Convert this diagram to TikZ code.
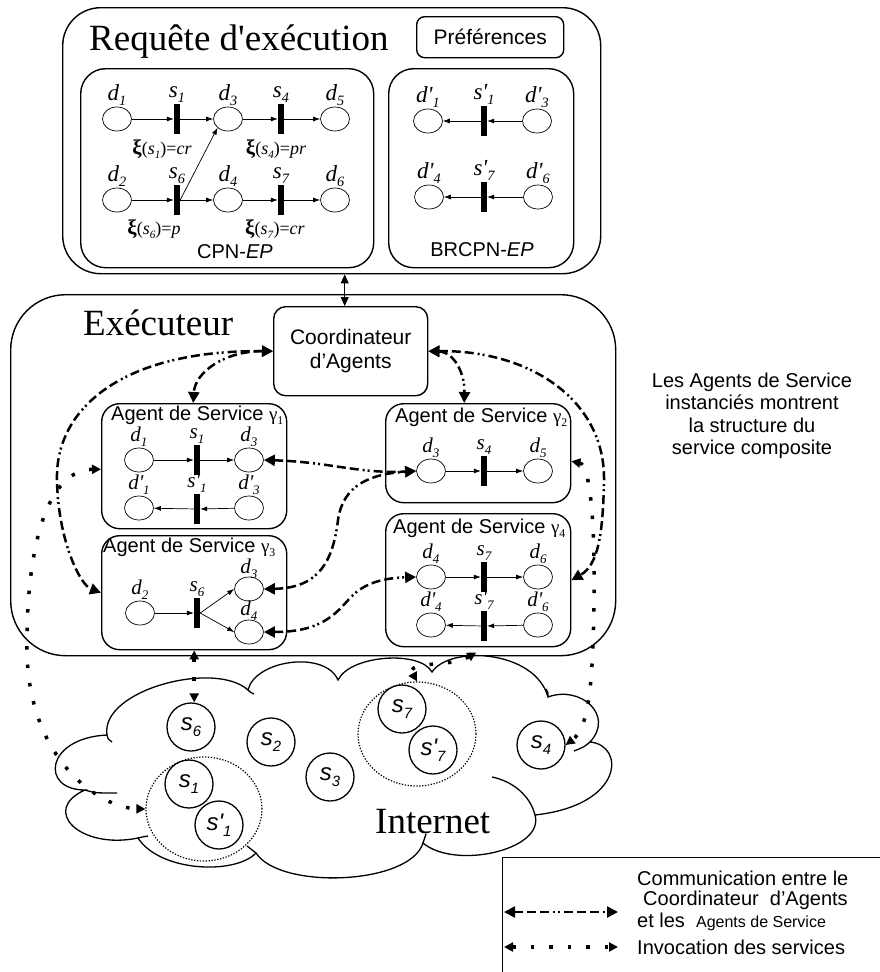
\documentclass[tikz,border=0pt]{standalone}
\usepackage{fontspec}
\setmainfont{Liberation Serif}[Ligatures=TeXOff]
\setsansfont{Liberation Sans}[Ligatures=TeXOff]
\usetikzlibrary{arrows.meta,shapes.geometric,calc}

\newcommand\fsz[2]{\fontsize{#1}{#2}\selectfont}
\newcommand\lo[1]{\raisebox{-0.5ex}{\scalebox{0.62}{#1}}}
\newcommand\gam[1]{{\rmfamily\fsz{19}{19}γ\lo{#1}}}
\newcommand\xil[2]{{\fsz{21}{21}\bfseries ξ}(\textit{s}\lo{\textit{#1}})=\textit{#2}}

\tikzset{
  bigbox/.style={draw, line width=1.4, inner sep=0},
  abox/.style={draw, line width=1.4, rounded corners=18, inner sep=0, anchor=north west},
  place/.style={draw, ellipse, line width=0.7, minimum width=29, minimum height=24, inner sep=0},
  bar/.style={fill=black, minimum width=6, minimum height=30, inner sep=0},
  arc/.style={line width=0.7, -{Latex[length=7pt,width=5pt]}},
  plab/.style={font=\fsz{23}{23}\itshape, inner sep=1, label distance=0},
  alab/.style={font=\fsz{21}{21}\itshape, inner sep=1, label distance=0},
  atitle/.style={anchor=west, inner sep=0, font=\sffamily\fsz{20}{22}},
  svc/.style={draw, circle, line width=1.3, minimum size=48, inner sep=0, font=\sffamily\itshape\fsz{24}{24}},
  grp/.style={draw, ellipse, line width=1.2, dash pattern=on 1.3pt off 1.6pt, inner sep=0},
  xlab/.style={font=\fsz{18}{18}, inner sep=0},
  biarr/.style={line width=1, {Triangle[length=9pt,width=8pt]}-{Triangle[length=9pt,width=8pt]}},
  comm/.style={line width=2.5, dash pattern=on 9pt off 4pt on 9pt off 4pt on 9pt off 4pt on 2pt off 3pt on 2pt off 4pt,
    {Triangle[length=11pt,width=11pt]}-{Triangle[length=11pt,width=11pt]}},
  invoc/.style={line width=3.5, dash pattern=on 3.5pt off 15pt,
    {Triangle[length=9pt,width=9pt]}-{Triangle[length=9pt,width=9pt]}},
  cloudline/.style={line width=1.3},
}

\begin{document}
\begin{tikzpicture}[x=1pt,y=-1pt]
\useasboundingbox (0,0) rectangle (879,972);

% ---------------- execution request ----------------
\node[bigbox, rounded corners=38, minimum width=538, minimum height=266, anchor=north west] (req) at (62,7) {};
\node[anchor=base west, inner sep=0, font=\fsz{37}{40}] (reqt) at (89,50) {Requête d'exécution};
\node[bigbox, rounded corners=8, minimum width=147, minimum height=41, anchor=north west,
      font=\sffamily\fsz{21}{24}] (pref) at (416,16) {Préférences};

% CPN-EP
\node[bigbox, rounded corners=25, minimum width=293, minimum height=199, anchor=north west] (cpn) at (80,68) {};
\node[inner sep=0, font=\sffamily\fsz{20}{22}] (cpnt) at (235,252) {CPN-\textit{EP}};
\node[place, label={[plab]above:d\lo{1}}] (c1) at (117,119) {};
\node[bar,   label={[plab]above:s\lo{1}}] (t1) at (177,119) {};
\node[place, label={[plab]above:d\lo{3}}] (c3) at (228,119) {};
\node[bar,   label={[plab]above:s\lo{4}}] (t4) at (281,119) {};
\node[place, label={[plab]above:d\lo{5}}] (c5) at (335,119) {};
\node[place, label={[plab]above:d\lo{2}}] (c2) at (117,200) {};
\node[bar,   label={[plab]above:s\lo{6}}] (t6) at (177,200) {};
\node[place, label={[plab]above:d\lo{4}}] (c4) at (228,200) {};
\node[bar,   label={[plab]above:s\lo{7}}] (t7) at (281,200) {};
\node[place, label={[plab]above:d\lo{6}}] (c6) at (335,200) {};
\node[xlab] (x1) at (162,149) {\xil{1}{cr}};
\node[xlab] (x4) at (276,149) {\xil{4}{pr}};
\node[xlab] (x6) at (154,229) {\xil{6}{p}};
\node[xlab] (x7) at (275,229) {\xil{7}{cr}};
\draw[arc] (c1) -- (t1);
\draw[arc] (t1) -- (c3);
\draw[arc] (c3) -- (t4);
\draw[arc] (t4) -- (c5);
\draw[arc] (c2) -- (t6);
\draw[arc] (t6) -- (c4);
\draw[arc] (c4) -- (t7);
\draw[arc] (t7) -- (c6);
\draw[arc] (t6.east) -- (c3.south west);

% BRCPN-EP
\node[bigbox, rounded corners=25, minimum width=185, minimum height=199, anchor=north west] (brc) at (388,68) {};
\node[inner sep=0, font=\sffamily\fsz{20}{22}] (brct) at (482,250) {BRCPN-\textit{EP}};
\node[place, label={[plab]above:d'\lo{1}}] (b1) at (428,121) {};
\node[bar,   label={[plab]above:s'\lo{1}}] (bt1) at (484,121) {};
\node[place, label={[plab]above:d'\lo{3}}] (b3) at (537,121) {};
\node[place, label={[plab]above:d'\lo{4}}] (b4) at (429,197) {};
\node[bar,   label={[plab]above:s'\lo{7}}] (bt7) at (484,197) {};
\node[place, label={[plab]above:d'\lo{6}}] (b6) at (538,197) {};
\draw[arc] (b3) -- (bt1);
\draw[arc] (bt1) -- (b1);
\draw[arc] (b6) -- (bt7);
\draw[arc] (bt7) -- (b4);

% ---------------- executor ----------------
\node[bigbox, rounded corners=55, minimum width=605, minimum height=361, anchor=north west] (exec) at (10,294) {};
\node[anchor=base west, inner sep=0, font=\fsz{37}{40}] (exect) at (83,335) {Exécuteur};
\node[bigbox, rounded corners=12, minimum width=154, minimum height=89, anchor=north west, align=center,
      font=\sffamily\fsz{21}{24}] (coord) at (273,306) {Coordinateur\\d’Agents};
\coordinate (cn) at ($(coord.north)+(-6,0)$);
\draw[biarr] (cn) -- (cn |- req.south);

% service agent 1
\node[abox, minimum width=185, minimum height=125] (ag1) at (101,403) {};
\node[atitle] (ag1t) at (111,415) {Agent de Service \gam{1}};
\node[place, label={[alab]above:d\lo{1}}] (a1d1) at (139,460) {};
\node[bar,   label={[alab]above:s\lo{1}}] (a1t1) at (197,460) {};
\node[place, label={[alab]above:d\lo{3}}] (a1d3) at (249,460) {};
\node[place, label={[alab]above:d'\lo{1}}] (a1d1p) at (139,508) {};
\node[bar,   label={[alab]above:s'\lo{1}}] (a1t1p) at (197,509) {};
\node[place, label={[alab]above:d'\lo{3}}] (a1d3p) at (249,508) {};
\draw[arc] (a1d1) -- (a1t1);
\draw[arc] (a1t1) -- (a1d3);
\draw[arc] (a1d3p) -- (a1t1p);
\draw[arc] (a1t1p) -- (a1d1p);

% service agent 3
\node[abox, minimum width=185, minimum height=114] (ag3) at (101,535) {};
\node[atitle] (ag3t) at (103,547) {Agent de Service \gam{3}};
\node[place, label={[alab]above:d\lo{2}}] (a3d2) at (140,613) {};
\node[bar,   label={[alab]above:s\lo{6}}] (a3t6) at (197,613) {};
\node[place, label={[alab, label distance=-3]above:d\lo{3}}] (a3d3) at (249,589) {};
\node[place, label={[alab, label distance=-2]above:d\lo{4}}] (a3d4) at (249,632) {};
\draw[arc] (a3d2) -- (a3t6);
\draw[arc] (a3t6.east) -- (a3d3.west);
\draw[arc] (a3t6.east) -- (a3d4.west);

% service agent 2
\node[abox, minimum width=185, minimum height=99] (ag2) at (385,403) {};
\node[atitle] (ag2t) at (395,417) {Agent de Service \gam{2}};
\node[place, label={[alab]above:d\lo{3}}] (a2d3) at (431,471) {};
\node[bar,   label={[alab]above:s\lo{4}}] (a2t4) at (484,471) {};
\node[place, label={[alab]above:d\lo{5}}] (a2d5) at (538,471) {};
\draw[arc] (a2d3) -- (a2t4);
\draw[arc] (a2t4) -- (a2d5);

% service agent 4
\node[abox, minimum width=185, minimum height=133] (ag4) at (385,513) {};
\node[atitle] (ag4t) at (393,528) {Agent de Service \gam{4}};
\node[place, label={[alab]above:d\lo{4}}] (a4d4) at (431,577) {};
\node[bar,   label={[alab]above:s\lo{7}}] (a4t7) at (484,577) {};
\node[place, label={[alab]above:d\lo{6}}] (a4d6) at (538,577) {};
\node[place, label={[alab]above:d'\lo{4}}] (a4d4p) at (431,625) {};
\node[bar,   label={[alab]above:s'\lo{7}}] (a4t7p) at (484,626) {};
\node[place, label={[alab]above:d'\lo{6}}] (a4d6p) at (538,625) {};
\draw[arc] (a4d4) -- (a4t7);
\draw[arc] (a4t7) -- (a4d6);
\draw[arc] (a4d6p) -- (a4t7p);
\draw[arc] (a4t7p) -- (a4d4p);

% side note
\node[align=center, inner sep=0, font=\sffamily\fsz{20}{22.5}] (note) at (752,416)
  {Les Agents de Service\\ instanciés montrent\\la structure du\\service composite};

% ---------------- internet cloud ----------------
\draw[cloudline, fill=white] (107,735)
  .. controls (100,690) and (215,660) .. (248,690)
  .. controls (255,660) and (325,650) .. (338,680)
  .. controls (350,655) and (420,650) .. (432,672)
  .. controls (450,645) and (535,650) .. (548,697)
  .. controls (580,685) and (615,715) .. (590,742)
  .. controls (625,745) and (625,805) .. (535,815)
  .. controls (545,850) and (455,870) .. (423,843)
  .. controls (410,885) and (280,890) .. (256,853)
  .. controls (235,875) and (160,872) .. (138,838)
  .. controls (80,850) and (40,810) .. (85,790)
  .. controls (40,790) and (45,738) .. (107,735) -- cycle;
% inner ends of the puffs
\draw[cloudline] (107,735) .. controls (108,739) .. (112,742);
\draw[cloudline] (248,690) .. controls (250,692) .. (254,694);
\draw[cloudline] (548,697) .. controls (548,692) .. (546,689);
\draw[cloudline] (590,742) .. controls (584,747) .. (574,751);
\draw[cloudline] (535,815) .. controls (530,795) and (512,781) .. (492,777);
\draw[cloudline] (423,843) .. controls (424,838) .. (426,834);
\draw[cloudline] (256,853) .. controls (252,849) .. (247,846);
\draw[cloudline] (85,790) .. controls (95,793) .. (117,793);
\draw[cloudline] (138,838) .. controls (142,837) .. (148,836);

\node[anchor=base west, inner sep=0, font=\fsz{37}{40}] (inet) at (375,833) {Internet};

% service groups and services
\node[grp, minimum width=116, minimum height=104] (dc1) at (204,809) {};
\node[grp, minimum width=118, minimum height=104] (dc2) at (417,734) {};
\node[svc] (s6) at (191,727) {s\lo{6}};
\node[svc] (s2) at (271,742) {s\lo{2}};
\node[svc] (s3) at (330,777) {s\lo{3}};
\node[svc] (s1) at (189,784) {s\lo{1}};
\node[svc] (s1p) at (219,825) {s'\lo{1}};
\node[svc] (s7) at (402,709) {s\lo{7}};
\node[svc] (s7p) at (433,750) {s'\lo{7}};
\node[svc] (s4) at (541,745) {s\lo{4}};

% ---------------- coordinator / agents communication ----------------
\draw[comm] (coord.west) .. controls (225,351) and (195,372) .. ($(ag1.north)+(-1,0)$);
\draw[comm] (coord.west) .. controls (120,350) and (55,410) .. (57,480)
                         .. controls (58,540) and (80,585) .. (ag3.west);
\draw[comm] (coord.east) .. controls (455,352) and (465,375) .. ($(ag2.north)+(-14,0)$);
\draw[comm] (coord.east) .. controls (530,350) and (605,400) .. (604,480)
                         .. controls (603,535) and (598,565) .. (ag4.east);
\draw[comm] (a1d3.east) .. controls (330,462) and (360,474) .. (a2d3.west);
\draw[comm] (a3d3.east) .. controls (320,588) and (333,560) .. (338,520)
                        .. controls (343,485) and (370,474) .. (a2d3.west);
\draw[comm] (a3d4.east) .. controls (320,632) and (335,615) .. (350,598)
                        .. controls (365,582) and (385,578) .. (a4d4.west);

% ---------------- service invocation ----------------
\draw[invoc] ($(ag1.west)+(0,3)$) .. controls (40,470) and (26,570) .. (27,650)
                                  .. controls (28,760) and (100,808) .. (dc1.west);
\draw[invoc] (ag3.south) -- (ag3.south |- s6.north);
\draw[invoc] ($(ag2.east)+(0,8)$) .. controls (590,465) and (595,520) .. (594,600)
                                  .. controls (593,690) and (588,728) .. (s4.east);
\draw[invoc] ($(ag4.south)+(-2,5)$) .. controls (450,668) and (405,660) .. (dc2.north);

% ---------------- legend ----------------
\node[draw, line width=1.3, minimum width=420, minimum height=140, anchor=north west, inner sep=0] (leg) at (502,857) {};
\coordinate (l1a) at (504,912);
\coordinate (l1b) at (618,912);
\coordinate (l2a) at (504,947);
\coordinate (l2b) at (618,947);
\draw[comm] (l1a) -- (l1b);
\draw[invoc] (l2a) -- (l2b);
\node[anchor=west, inner sep=0, font=\sffamily\fsz{20}{22}] (lg1) at (637,878) {Communication entre le};
\node[anchor=west, inner sep=0, font=\sffamily\fsz{20}{22}] (lg2) at (643,900) {Coordinateur~ d’Agents};
\node[anchor=west, inner sep=0, font=\sffamily\fsz{20}{22}] (lg3) at (637,922) {et les ~{\fsz{16}{18}Agents de Service}};
\node[anchor=west, inner sep=0, font=\sffamily\fsz{20}{22}] (lg4) at (637,947) {Invocation des services};
\end{tikzpicture}
\end{document}
